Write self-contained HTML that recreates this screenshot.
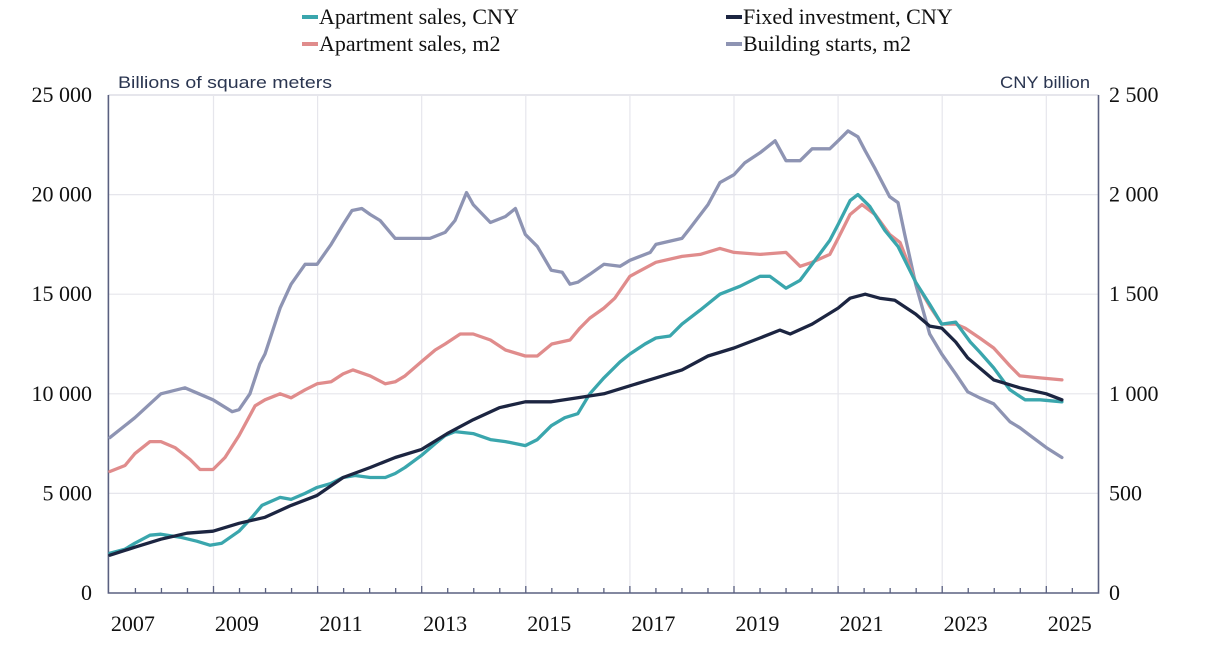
<!DOCTYPE html>
<html><head><meta charset="utf-8"><style>
body{margin:0;background:#fff;}
svg{display:block;font-family:"Liberation Serif",serif;}
</style></head><body>
<svg id="chart" width="1217" height="651" viewBox="0 0 1217 651" xmlns="http://www.w3.org/2000/svg">
<g id="grid"></g>
<g id="axes"></g>
<g id="series"></g>
<g font-size="22" fill="#111">
 <g><line x1="302" y1="17" x2="318" y2="17" stroke="#3aa6ad" stroke-width="4"/><text x="319" y="24">Apartment sales, CNY</text></g>
 <g><line x1="726" y1="17" x2="742" y2="17" stroke="#1c2541" stroke-width="4"/><text x="743" y="24">Fixed investment, CNY</text></g>
 <g><line x1="302" y1="44" x2="318" y2="44" stroke="#e08c8c" stroke-width="4"/><text x="319" y="51">Apartment sales, m2</text></g>
 <g><line x1="726" y1="44" x2="742" y2="44" stroke="#8e94b3" stroke-width="4"/><text x="743" y="51">Building starts, m2</text></g>
</g>
<text x="118" y="88" font-family="Liberation Sans Narrow,Liberation Sans,sans-serif" font-size="17" fill="#2a3550" textLength="214" lengthAdjust="spacingAndGlyphs">Billions of square meters</text>
<text x="1000" y="88" font-family="Liberation Sans Narrow,Liberation Sans,sans-serif" font-size="17" fill="#2a3550" textLength="90" lengthAdjust="spacingAndGlyphs">CNY billion</text>
</svg>
<script>
const leftTicks=[0,5000,10000,15000,20000,25000];
const leftTickLabels=["0","5 000","10 000","15 000","20 000","25 000"];
const rightTicks=[0,500,1000,1500,2000,2500];
const rightTickLabels=["0","500","1 000","1 500","2 000","2 500"];
const yearLabels=[2007,2009,2011,2013,2015,2017,2019,2021,2023,2025];

const startsT=[2007.01,2007.49,2007.99,2008.45,2008.99,2009.36,2009.49,2009.70,2009.89,2009.99,2010.28,2010.49,2010.76,2010.99,2011.26,2011.49,2011.66,2011.85,2012.01,2012.20,2012.49,2012.68,2012.99,2013.16,2013.45,2013.64,2013.86,2013.99,2014.32,2014.61,2014.80,2014.99,2015.22,2015.49,2015.70,2015.85,2016.00,2016.23,2016.50,2016.81,2017.00,2017.39,2017.50,2018.00,2018.15,2018.50,2018.73,2019.00,2019.21,2019.50,2019.79,2020.00,2020.27,2020.50,2020.84,2021.00,2021.19,2021.38,2021.52,2021.71,2021.99,2022.15,2022.28,2022.49,2022.76,2022.99,2023.26,2023.49,2023.72,2023.99,2024.30,2024.49,2024.69,2025.00,2025.30];
const startsV=[7.8,8.8,10.0,10.3,9.7,9.1,9.2,10.0,11.5,12.0,14.3,15.5,16.5,16.5,17.5,18.5,19.2,19.3,19.0,18.7,17.8,17.8,17.8,17.8,18.1,18.7,20.1,19.5,18.6,18.9,19.3,18.0,17.4,16.2,16.1,15.5,15.6,16.0,16.5,16.4,16.7,17.1,17.5,17.8,18.3,19.5,20.6,21.0,21.6,22.1,22.7,21.7,21.7,22.3,22.3,22.7,23.2,22.9,22.2,21.3,19.9,19.6,18.0,15.5,13.0,12.0,11.0,10.1,9.8,9.5,8.6,8.3,7.9,7.3,6.8];

const salesM2T=[2007.01,2007.30,2007.49,2007.78,2007.99,2008.26,2008.55,2008.74,2008.99,2009.22,2009.49,2009.80,2009.99,2010.28,2010.49,2010.76,2010.99,2011.26,2011.49,2011.68,2012.01,2012.30,2012.49,2012.68,2012.99,2013.26,2013.45,2013.74,2013.99,2014.32,2014.61,2014.99,2015.22,2015.50,2015.85,2016.04,2016.23,2016.50,2016.71,2017.00,2017.50,2018.00,2018.35,2018.73,2019.00,2019.50,2020.00,2020.27,2020.50,2020.84,2021.00,2021.23,2021.46,2021.71,2021.99,2022.19,2022.49,2022.76,2022.99,2023.26,2023.44,2023.72,2023.99,2024.30,2024.49,2024.88,2025.30];
const salesM2V=[6.1,6.4,7.0,7.6,7.6,7.3,6.7,6.2,6.2,6.8,7.9,9.4,9.7,10.0,9.8,10.2,10.5,10.6,11.0,11.2,10.9,10.5,10.6,10.9,11.6,12.2,12.5,13.0,13.0,12.7,12.2,11.9,11.9,12.5,12.7,13.3,13.8,14.3,14.8,15.9,16.6,16.9,17.0,17.3,17.1,17.0,17.1,16.4,16.6,17.0,17.8,19.0,19.5,19.0,18.0,17.6,15.6,14.4,13.5,13.5,13.3,12.8,12.3,11.4,10.9,10.8,10.7];

const salesCnyT=[2007.01,2007.30,2007.49,2007.78,2007.99,2008.36,2008.68,2008.93,2009.16,2009.49,2009.74,2009.93,2010.28,2010.49,2010.76,2010.99,2011.26,2011.49,2011.72,2012.01,2012.30,2012.49,2012.68,2012.99,2013.26,2013.45,2013.64,2013.99,2014.32,2014.61,2014.99,2015.22,2015.49,2015.75,2016.00,2016.23,2016.50,2016.81,2017.00,2017.29,2017.50,2017.77,2018.00,2018.35,2018.73,2019.12,2019.50,2019.69,2020.00,2020.27,2020.50,2020.84,2021.00,2021.23,2021.38,2021.61,2021.90,2022.15,2022.49,2022.76,2022.99,2023.26,2023.54,2023.72,2023.99,2024.30,2024.59,2024.88,2025.30];
const salesCnyV=[2.0,2.2,2.5,2.9,2.95,2.8,2.6,2.4,2.5,3.1,3.8,4.4,4.8,4.7,5.0,5.3,5.5,5.8,5.9,5.8,5.8,6.0,6.3,6.9,7.5,7.9,8.1,8.0,7.7,7.6,7.4,7.7,8.4,8.8,9.0,10.0,10.8,11.6,12.0,12.5,12.8,12.9,13.5,14.2,15.0,15.4,15.9,15.9,15.3,15.7,16.5,17.7,18.5,19.7,20.0,19.4,18.2,17.4,15.6,14.5,13.5,13.6,12.6,12.1,11.3,10.2,9.7,9.7,9.6];

const fixedT=[2007.01,2007.49,2007.99,2008.49,2008.99,2009.49,2009.99,2010.49,2010.99,2011.49,2012.01,2012.49,2012.99,2013.49,2013.99,2014.49,2014.99,2015.49,2016.00,2016.50,2017.00,2017.50,2018.00,2018.50,2019.00,2019.50,2019.88,2020.08,2020.50,2021.00,2021.23,2021.52,2021.80,2022.09,2022.49,2022.76,2022.99,2023.26,2023.49,2023.99,2024.49,2025.00,2025.30];
const fixedV=[190,230,270,300,310,350,380,440,490,580,630,680,720,800,870,930,960,960,980,1000,1040,1080,1120,1190,1230,1280,1320,1300,1350,1430,1480,1500,1480,1470,1400,1340,1330,1260,1180,1070,1030,1000,970];

const NS="http://www.w3.org/2000/svg";
const X0=108.4,X1=1098.5,Y0=593,Y1=95;
function xScale(t){return 213.5+(t-2009)*52.05;}
function yLeft(v){return Y0-(v/25000)*(Y0-Y1);}
function yRight(v){return Y0-(v/2500)*(Y0-Y1);}
function mk(tag,attrs,parent){const e=document.createElementNS(NS,tag);for(const k in attrs)e.setAttribute(k,attrs[k]);parent.appendChild(e);return e;}
const grid=document.getElementById('grid'),axes=document.getElementById('axes'),series=document.getElementById('series');

leftTicks.forEach((v,i)=>{
 const y=yLeft(v);
 if(v>0){const g=mk('line',{x1:X0,x2:X1,y1:y,y2:y,stroke:i===leftTicks.length-1?'#d8d8e0':'#e6e6ec','stroke-width':1.2},grid);
 
 }
 const t=mk('text',{x:92,y:y+7,'text-anchor':'end','font-size':22,fill:'#111'},axes);t.textContent=leftTickLabels[i];
 
 
});
rightTicks.forEach((v,i)=>{
 const y=yRight(v);
 const t=mk('text',{x:1109,y:y+7,'font-size':22,fill:'#111'},axes);t.textContent=rightTickLabels[i];
 
 
});
for(let yr=2007.5;yr<=2025.5;yr+=0.5){
 const x=xScale(yr);if(x<X0+2||x>X1-2)continue;
 const major=Math.abs(yr-Math.round(yr))<0.01&&Math.round(yr)%2===1;
 if(major){const g=mk('line',{x1:x,x2:x,y1:Y1,y2:Y0,stroke:'#e6e6ec','stroke-width':1.2},grid);
 
 }
 const tk=mk('line',{x1:x,x2:x,y1:Y0,y2:Y0-(major?7:5),stroke:'#5a6080','stroke-width':1.3},axes);
 
 
}
yearLabels.forEach(yr=>{
 const t=mk('text',{x:xScale(yr+0.45),y:631,'text-anchor':'middle','font-size':22,fill:'#111'},axes);t.textContent=yr;
 
 
});
const la=mk('path',{d:`M${X0},${Y1} L${X0},${Y0} L${X1},${Y0} L${X1},${Y1}`,fill:'none',stroke:'#5a6080','stroke-width':1.6},axes);



function line(ts,vs,ys,color,name,sc){
 const d=ts.map((t,i)=>(i?'L':'M')+xScale(t).toFixed(1)+','+ys(vs[i]*sc).toFixed(1)).join(' ');
 const p=mk('path',{d:d,fill:'none',stroke:color,'stroke-width':3.3,'stroke-linejoin':'round','stroke-linecap':'round'},series);
 
 
}
line(startsT,startsV,yLeft,'#8e94b3','line-building-starts-m2',1000);
line(salesM2T,salesM2V,yLeft,'#e08c8c','line-apartment-sales-m2',1000);
line(salesCnyT,salesCnyV,yLeft,'#3aa6ad','line-apartment-sales-cny',1000);
line(fixedT,fixedV,yRight,'#1c2541','line-fixed-investment-cny',1);
</script>
</body></html>
